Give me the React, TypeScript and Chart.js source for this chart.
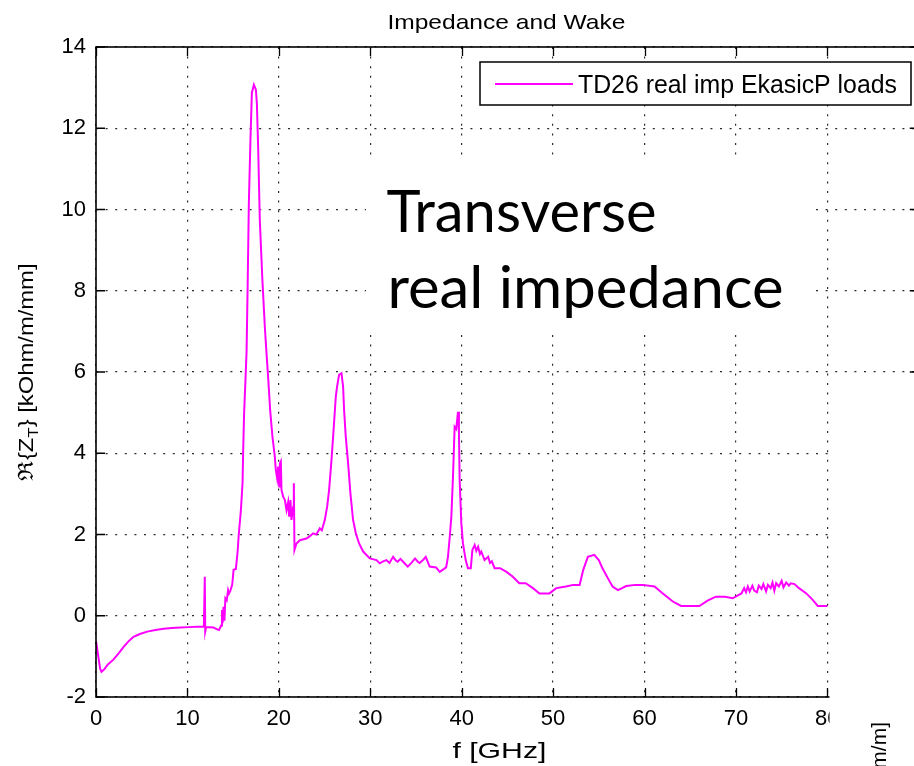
import React, { useEffect, useRef } from "react";
import { Chart, registerables } from "chart.js";

Chart.register(...registerables);

// ---------- data ----------
const chartTitle = "Impedance and Wake";
const xAxisLabel = "f [GHz]";
const legendLabel = "TD26 real imp EkasicP loads";
const overlayLines = ["Transverse", "real impedance"];
const rightPanelLabel = "W [V/pC/mm/m]";

const xMin = 0;
const xMax = 90;
const xStep = 10;
const yMin = -2;
const yMax = 14;
const yStep = 2;

// frequency [GHz]
const freq = [
  0.0, 0.25, 0.45, 0.6, 0.9, 1.3, 1.9, 2.5, 3.0, 3.6, 4.1, 4.8, 5.6, 6.5, 7.4, 8.3, 9.2, 10.2, 11.0, 11.8,
  11.9, 11.95, 12.05, 12.85, 13.2, 13.45, 13.7, 13.78, 13.85, 13.95, 14.05, 14.15, 14.3, 14.45, 14.55, 14.7,
  14.9, 15.05, 15.3, 15.5, 15.6, 15.85, 16.03, 16.1, 16.2, 16.35, 16.47, 16.58, 16.72, 16.9, 17.05, 17.27,
  17.49, 17.6, 17.74, 17.92, 18.2, 18.47, 18.65, 18.85, 19.05, 19.3, 19.56, 19.67, 19.82, 19.93, 20.04,
  20.11, 20.22, 20.29, 20.47, 20.66, 20.84, 21.02, 21.13, 21.27, 21.38, 21.57, 21.64, 21.71, 21.93, 22.3,
  23.02, 23.4, 23.75, 24.1, 24.48, 24.7, 25.03, 25.28, 25.5, 25.76, 26.01, 26.23, 26.37, 26.59, 26.85,
  27.03, 27.14, 27.32, 27.58, 27.83, 28.12, 28.42, 28.78, 29.22, 29.95, 30.68, 31.04, 31.4, 31.77, 32.1,
  32.5, 32.8, 33.0, 33.3, 33.6, 34.1, 34.5, 34.9, 35.2, 35.4, 35.8, 36.07, 36.5, 37.2, 37.6, 38.3, 38.5,
  38.7, 38.87, 39.05, 39.23, 39.4, 39.6, 39.7, 39.78, 39.96, 40.14, 40.44, 40.69, 41.0, 41.17, 41.42,
  41.6, 41.8, 42.0, 42.15, 42.5, 42.9, 43.1, 43.3, 43.6, 44.2, 44.9, 45.6, 46.3, 47.0, 47.8, 48.5, 49.6,
  50.35, 51.4, 52.2, 52.9, 53.3, 53.8, 54.5, 55.0, 55.4, 56.0, 56.5, 57.1, 58.0, 59.0, 59.8, 61.1, 62.0,
  63.1, 64.0, 66.0, 66.9, 67.8, 68.8, 69.65, 70.6, 70.9, 71.1, 71.3, 71.5, 71.8, 72.0, 72.3, 72.5, 72.8,
  73.0, 73.3, 73.5, 73.8, 74.0, 74.2, 74.4, 74.7, 75.0, 75.2, 75.5, 75.8, 76.0, 76.4, 76.9, 77.7, 78.4,
  78.95, 80.0,
];

// Re{Z_T} [kOhm/m/mm]
const zReal = [
  -0.62, -1.0, -1.3, -1.38, -1.32, -1.2, -1.08, -0.92, -0.77, -0.62, -0.52, -0.45, -0.39, -0.35, -0.32, -0.3, -0.29, -0.28, -0.27, -0.27,
  0.96, -0.39, -0.28, -0.29, -0.33, -0.35, -0.24, 0.14, -0.18, 0.22, -0.12, 0.43, 0.38, 0.63, 0.55, 0.62,
  0.76, 1.13, 1.15, 1.6, 1.95, 2.6, 3.26, 4.08, 4.98, 5.8, 6.5, 8.0, 10.15, 11.76, 12.87, 13.07,
  12.95, 12.6, 11.5, 9.73, 8.27, 7.1, 6.47, 5.8, 5.06, 4.41, 3.92, 3.59, 3.38, 3.67, 3.18,
  3.75, 3.8, 3.1, 2.93, 2.85, 2.6, 2.8, 2.44, 2.85, 2.36, 2.68, 3.26, 1.62, 1.78, 1.86,
  1.9, 1.96, 2.03, 2.0, 2.15, 2.1, 2.36, 2.68, 3.1, 3.83, 4.65, 5.39, 5.64, 5.93, 5.97,
  5.64, 5.06, 4.41, 3.75, 3.01, 2.36, 2.03, 1.78, 1.58, 1.41, 1.37, 1.29, 1.34, 1.37, 1.3,
  1.45, 1.36, 1.33, 1.4, 1.33, 1.21, 1.3, 1.41, 1.33, 1.3, 1.38, 1.45, 1.21, 1.19, 1.08, 1.19, 1.45,
  1.95, 2.44, 3.42, 4.65, 4.6, 5.02, 4.5, 3.34, 2.28, 1.78, 1.37, 1.17, 1.17, 1.62, 1.74,
  1.6, 1.7, 1.52, 1.58, 1.37, 1.45, 1.3, 1.34, 1.17, 1.17, 1.08, 0.96, 0.8, 0.8, 0.68, 0.55, 0.55,
  0.68, 0.72, 0.76, 0.76, 1.13, 1.45, 1.5, 1.37, 1.17, 0.92, 0.72, 0.63, 0.73, 0.76, 0.76, 0.72, 0.55,
  0.35, 0.24, 0.24, 0.37, 0.47, 0.47, 0.43, 0.55, 0.68, 0.58, 0.72, 0.6, 0.74, 0.62, 0.58, 0.74, 0.66,
  0.78, 0.6, 0.76, 0.68, 0.82, 0.62, 0.8, 0.72, 0.86, 0.7, 0.82, 0.74, 0.8, 0.78, 0.68, 0.55, 0.39,
  0.24, 0.24,
];

const LINE_COLOR = "#ff00ff";
const SANS = "'Liberation Sans', Arial, sans-serif";

function fitText(
  ctx: CanvasRenderingContext2D,
  text: string,
  x: number,
  y: number,
  width: number,
  align: "left" | "center"
) {
  const w = ctx.measureText(text).width;
  const s = w > 0 ? width / w : 1;
  ctx.save();
  ctx.translate(x, y);
  ctx.scale(s, 1);
  ctx.textAlign = align;
  ctx.textBaseline = "alphabetic";
  ctx.fillText(text, 0, 0);
  ctx.restore();
}

const decorPlugin = {
  id: "matlabDecor",
  afterDatasetsDraw(chart: any) {
    const ctx: CanvasRenderingContext2D = chart.ctx;
    const { left, right, top, bottom } = chart.chartArea;
    const xs = chart.scales.x;
    const ys = chart.scales.y;
    ctx.save();

    // inward tick marks
    ctx.strokeStyle = "#000";
    ctx.lineWidth = 1.3;
    const tl = 9;
    ctx.beginPath();
    for (let v = xMin; v <= xMax; v += xStep) {
      const px = Math.round(xs.getPixelForValue(v)) + 0.5;
      ctx.moveTo(px, bottom);
      ctx.lineTo(px, bottom - tl);
      ctx.moveTo(px, top);
      ctx.lineTo(px, top + tl);
    }
    for (let v = yMin; v <= yMax; v += yStep) {
      const py = ys.getPixelForValue(v);
      ctx.moveTo(left, py);
      ctx.lineTo(left + tl, py);
      ctx.moveTo(right, py);
      ctx.lineTo(right - tl, py);
    }
    ctx.stroke();

    // axes box
    ctx.lineWidth = 1.6;
    ctx.strokeRect(left, top, right - left, bottom - top);

    // legend
    const lx0 = 480, ly0 = 62, lx1 = 911, ly1 = 105;
    ctx.fillStyle = "#fff";
    ctx.fillRect(lx0, ly0, lx1 - lx0, ly1 - ly0);
    ctx.strokeStyle = "#000";
    ctx.lineWidth = 1.5;
    ctx.strokeRect(lx0, ly0, lx1 - lx0, ly1 - ly0);
    ctx.strokeStyle = LINE_COLOR;
    ctx.lineWidth = 2;
    ctx.beginPath();
    ctx.moveTo(495, 84);
    ctx.lineTo(573, 84);
    ctx.stroke();
    ctx.fillStyle = "#000";
    ctx.font = `25px ${SANS}`;
    fitText(ctx, legendLabel, 578, 93, 319, "left");

    // white box with overlay text
    ctx.fillStyle = "#fff";
    ctx.fillRect(366, 162, 444, 173);
    ctx.fillStyle = "#000";
    ctx.font = `58px Lato, 'Open Sans', sans-serif`;
    fitText(ctx, overlayLines[0], 386.5, 231.5, 270, "left");
    fitText(ctx, overlayLines[1], 387.5, 308, 396, "left");

    // white cover at lower right
    ctx.fillStyle = "#fff";
    ctx.fillRect(829.5, 425, 200, 400);

    // fragment of neighbouring panel's label
    ctx.fillStyle = "#000";
    ctx.font = `21px ${SANS}`;
    ctx.save();
    ctx.translate(886, 722);
    ctx.rotate(-Math.PI / 2);
    ctx.textAlign = "right";
    ctx.textBaseline = "alphabetic";
    ctx.fillText(rightPanelLabel, 0, 0);
    ctx.restore();

    // title
    ctx.fillStyle = "#000";
    ctx.font = `21px ${SANS}`;
    fitText(ctx, chartTitle, (left + right) / 2 - 1, 29, 238, "center");

    // x label
    ctx.font = `22px ${SANS}`;
    fitText(ctx, xAxisLabel, (left + right) / 2 - 8, 758, 94, "center");

    // y label with subscript: ℜ{Z_T} [kOhm/m/mm]
    const big = `21px ${SANS}`;
    const small = `15px ${SANS}`;
    const parts = [
      { t: "\u211C{Z", f: big, dy: 0 },
      { t: "T", f: small, dy: 5 },
      { t: "} [kOhm/m/mm]", f: big, dy: 0 },
    ];
    let total = 0;
    const widths: number[] = [];
    for (const p of parts) {
      ctx.font = p.f;
      const w = ctx.measureText(p.t).width;
      widths.push(w);
      total += w;
    }
    const target = 217;
    const sc = target / total;
    ctx.save();
    ctx.translate(33, (top + bottom) / 2);
    ctx.rotate(-Math.PI / 2);
    ctx.scale(sc, 1);
    ctx.textAlign = "left";
    ctx.textBaseline = "alphabetic";
    let cx = -total / 2;
    parts.forEach((p, i) => {
      ctx.font = p.f;
      ctx.fillText(p.t, cx, p.dy);
      cx += widths[i];
    });
    ctx.restore();

    ctx.restore();
  },
};

export default function App() {
  const ref = useRef<HTMLCanvasElement | null>(null);

  useEffect(() => {
    if (!ref.current) return;
    const points = freq.map((f, i) => ({ x: f, y: zReal[i] }));
    const gridCommon = {
      color: "#2a2a2a",
      lineWidth: 1.2,
      drawTicks: false,
    };
    const chart = new Chart(ref.current, {
      type: "line",
      data: {
        datasets: [
          {
            label: legendLabel,
            data: points,
            borderColor: LINE_COLOR,
            backgroundColor: LINE_COLOR,
            borderWidth: 2,
            pointRadius: 0,
            tension: 0,
            fill: false,
          },
        ],
      },
      options: {
        responsive: false,
        animation: false,
        devicePixelRatio: 1,
        events: [],
        layout: { padding: { top: 47, right: 20.5, left: 0, bottom: 0 } },
        plugins: {
          legend: { display: false },
          tooltip: { enabled: false },
          title: { display: false },
        },
        scales: {
          x: {
            type: "linear",
            min: xMin,
            max: xMax,
            afterFit: (s: any) => {
              s.height = 69;
            },
            ticks: {
              stepSize: xStep,
              autoSkip: false,
              maxRotation: 0,
              padding: 9,
              color: "#000",
              font: { family: SANS, size: 22 },
            },
            grid: gridCommon,
            border: { display: false, dash: [2, 7.6] },
          },
          y: {
            type: "linear",
            min: yMin,
            max: yMax,
            afterFit: (s: any) => {
              s.width = 96;
            },
            ticks: {
              stepSize: yStep,
              autoSkip: false,
              padding: 10,
              color: "#000",
              font: { family: SANS, size: 22 },
            },
            grid: gridCommon,
            border: { display: false, dash: [2, 7.6] },
          },
        },
      },
      plugins: [decorPlugin],
    } as any);
    return () => chart.destroy();
  }, []);

  return (
    <div
      style={{
        position: "absolute",
        left: 0,
        top: 0,
        width: 914,
        height: 766,
        overflow: "hidden",
        background: "#fff",
      }}
    >
      <canvas
        ref={ref}
        width={940}
        height={766}
        style={{ width: 940, height: 766, display: "block" }}
      />
    </div>
  );
}
